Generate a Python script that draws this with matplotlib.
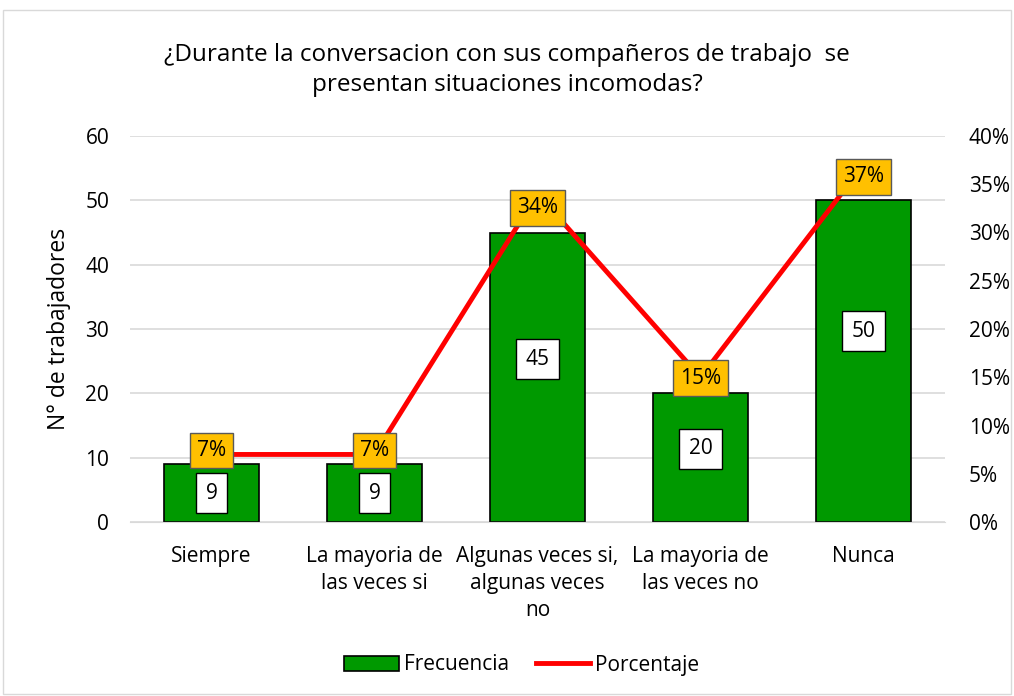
import matplotlib.pyplot as plt
import numpy as np

plt.rcParams['font.family'] = ['Open Sans', 'DejaVu Sans']

categorias = ['Siempre', 'La mayoria de\nlas veces si', 'Algunas veces si,\nalgunas veces\nno',
              'La mayoria de\nlas veces no', 'Nunca']
frecuencia = [9, 9, 45, 20, 50]
porcentaje = [7, 7, 34, 15, 37]

fig = plt.figure(figsize=(10.14, 6.96), dpi=100)
ax = fig.add_axes([130 / 1014, 1 - 522 / 696, 815 / 1014, 386 / 696])
x = np.arange(len(categorias))

bars = ax.bar(x, frecuencia, width=0.58, color='#009900', edgecolor='black', linewidth=1.2,
              label='Frecuencia', zorder=2)
ax.set_xlim(-0.5, 4.5)
ax.set_ylim(0, 60)
ax.set_yticks(range(0, 61, 10))
ax.set_xticks(x)
ax.set_xticklabels(categorias, fontsize=15, linespacing=1.4)
ax.tick_params(axis='x', length=0, labelsize=15, pad=17)
ax.tick_params(axis='y', length=0, labelsize=15, pad=15)
ax.grid(axis='y', color='#d9d9d9', linewidth=1.2, zorder=0)
for s in ['top', 'right', 'left']:
    ax.spines[s].set_visible(False)
ax.spines['bottom'].set_color('#d9d9d9')
ax.set_ylabel('N° de trabajadores', fontsize=16.5, labelpad=10)

# las etiquetas de las barras altas estan un poco desplazadas hacia arriba
desplaz_frec = [0, 0, 18, 9, 30]
for xi, v, d in zip(x, frecuencia, desplaz_frec):
    ax.annotate(str(v), (xi, v / 2), xytext=(0, d), textcoords='offset pixels',
                ha='center', va='center', fontsize=15, zorder=4,
                bbox=dict(boxstyle='square,pad=0.45', fc='white', ec='black', lw=1))

ax2 = ax.twinx()
ax2.set_ylim(0, 40)
ax2.set_yticks(range(0, 41, 5))
ax2.set_yticklabels([f'{t}%' for t in range(0, 41, 5)])
ax2.tick_params(axis='y', length=0, labelsize=15, pad=17)
for s in ax2.spines.values():
    s.set_visible(False)
line, = ax2.plot(x, porcentaje, color='#ff0000', linewidth=3.5, label='Porcentaje', zorder=3)
desplaz_pct = [4, 4, -14, -1, -12]
for xi, p, d in zip(x, porcentaje, desplaz_pct):
    ax2.annotate(f'{p}%', (xi, p), xytext=(0, d), textcoords='offset pixels',
                 ha='center', va='center', fontsize=15, zorder=5,
                 bbox=dict(boxstyle='square,pad=0.35', fc='#ffc000', ec='#595959', lw=1))

fig.text(0.5, 1 - 70 / 696, '¿Durante la conversacion con sus compañeros de trabajo  se\npresentan situaciones incomodas?',
         ha='center', va='center', fontsize=17.5, linespacing=1.35)

fig.legend(handles=[bars, line], loc='center', bbox_to_anchor=(522 / 1014, 1 - 665 / 696), ncol=2,
           frameon=False, fontsize=15, handlelength=2.6, handleheight=0.7,
           columnspacing=1.3, handletextpad=0.25)

fig.patches.append(plt.Rectangle((0.003, 0.003), 0.994, 0.982, transform=fig.transFigure,
                                 fill=False, ec='#d9d9d9', lw=1))

fig.savefig('out.png', dpi=100)
